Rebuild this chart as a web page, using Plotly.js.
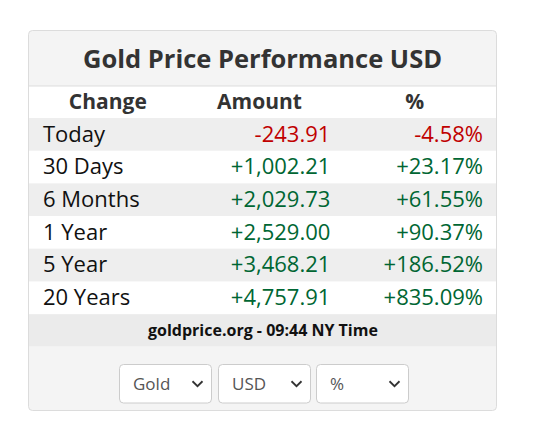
<!DOCTYPE html>
<html><head><meta charset="utf-8">
<script src="https://cdn.plot.ly/plotly-3.0.1.min.js"></script>
<style>html,body{margin:0;padding:0;background:#fff;}#chart{width:538px;height:437px;}</style>
</head><body><div id="chart"></div>
<script>
const titleText = 'Gold Price Performance USD';
const headers = ['Change', 'Amount', '%'];
const periods = ['Today', '30 Days', '6 Months', '1 Year', '5 Year', '20 Years'];
const amounts = [-243.91, 1002.21, 2029.73, 2529.00, 3468.21, 4757.91];
const percents = [-4.58, 23.17, 61.55, 90.37, 186.52, 835.09];
const footerText = 'goldprice.org - 09:44 NY Time';
const selectors = ['Gold', 'USD', '%'];

const W = 538, H = 437;
const FONT = '"Open Sans", "Noto Sans", sans-serif';
const RED = '#c00000', GREEN = '#006633';

function fmt(v) {
  const s = Math.abs(v).toLocaleString('en-US', {minimumFractionDigits: 2, maximumFractionDigits: 2});
  return (v < 0 ? '-' : '+') + s;
}
const amtText = amounts.map(fmt);
const pctText = percents.map(v => fmt(v) + '%');
const amtColors = amounts.map(v => v < 0 ? RED : GREEN);
const pctColors = percents.map(v => v < 0 ? RED : GREEN);

// layout geometry (pixels)
const panel = {x0: 28.5, x1: 496.5, y0: 30.5, y1: 410.5, r: 4};
const headerTop = 86, rowH = 32.7;
const bodyTop = 118;
const footTop = bodyTop + rowH * periods.length, footH = 32;

function rrect(x0, y0, x1, y1, r) {
  return `M${x0+r},${y0} L${x1-r},${y0} Q${x1},${y0} ${x1},${y0+r} L${x1},${y1-r} Q${x1},${y1} ${x1-r},${y1} L${x0+r},${y1} Q${x0},${y1} ${x0},${y1-r} L${x0},${y0+r} Q${x0},${y0} ${x0+r},${y0} Z`;
}

const shapes = [];
shapes.push({type: 'path', xref: 'x', yref: 'y', path: rrect(panel.x0, panel.y0, panel.x1, panel.y1, panel.r),
  fillcolor: '#f4f4f4', line: {color: '#dcdcdc', width: 1}, layer: 'below'});
shapes.push({type: 'rect', xref: 'x', yref: 'y', x0: 29, x1: 496, y0: headerTop, y1: bodyTop,
  fillcolor: '#ffffff', line: {width: 0}, layer: 'below'});
shapes.push({type: 'line', xref: 'x', yref: 'y', x0: 29, x1: 496, y0: headerTop, y1: headerTop,
  line: {color: '#dddddd', width: 1}, layer: 'below'});
periods.forEach((p, i) => {
  shapes.push({type: 'rect', xref: 'x', yref: 'y', x0: 29, x1: 496,
    y0: bodyTop + i * rowH, y1: bodyTop + (i + 1) * rowH,
    fillcolor: i % 2 === 0 ? '#eeeeee' : '#ffffff', line: {width: 0}, layer: 'below'});
});
shapes.push({type: 'rect', xref: 'x', yref: 'y', x0: 29, x1: 496, y0: footTop, y1: footTop + footH,
  fillcolor: '#ebebeb', line: {width: 0}, layer: 'below'});

// selector boxes
const selX = [119.5, 218.5, 316.5], selW = 92, selY0 = 364.5, selY1 = 403;
const annotations = [];
selectors.forEach((s, i) => {
  const x0 = selX[i], x1 = x0 + selW;
  shapes.push({type: 'path', xref: 'x', yref: 'y', path: rrect(x0, selY0, x1, selY1, 4),
    fillcolor: '#ffffff', line: {color: '#cccccc', width: 1}});
  const cx = x1 - 14, cy = (selY0 + selY1) / 2;
  shapes.push({type: 'path', xref: 'x', yref: 'y',
    path: `M${cx-5},${cy-2.5} L${cx},${cy+2.5} L${cx+5},${cy-2.5}`,
    line: {color: '#333333', width: 1.8}});
  annotations.push({xref: 'x', yref: 'y', x: x0 + 11, y: cy, xanchor: 'left', yanchor: 'middle',
    text: s, showarrow: false, font: {family: FONT, size: 17, color: '#555555'}});
});

annotations.push({xref: 'x', yref: 'y', x: 262.5, y: footTop + footH / 2, xanchor: 'center', yanchor: 'middle',
  text: '<b>' + footerText + '</b>', showarrow: false, font: {family: FONT, size: 16, color: '#111111'}});
annotations.push({xref: 'x', yref: 'y', x: 262.5, y: 58, xanchor: 'center', yanchor: 'middle',
  text: '<b>' + titleText + '</b>', showarrow: false, font: {family: FONT, size: 25.5, color: '#333333'}});

// tables: Plotly tables top-align text, so domains are offset to centre text in the stripes
const tX0 = 35, tX1 = 492;
const colW = [146, 158, 153];
const clear = {color: 'rgba(0,0,0,0)'};
const noLine = {width: 0, color: 'rgba(0,0,0,0)'};
const headTable = {
  type: 'table',
  domain: {x: [tX0 / W, tX1 / W], y: [1 - 125 / H, 1 - 79 / H]},
  columnwidth: colW,
  header: {
    values: headers.map(h => '<b>' + h + '</b>'),
    align: 'center', height: 26, fill: clear, line: noLine,
    font: {family: FONT, size: 21, color: '#333333'}
  },
  cells: {values: [[''], [''], ['']], height: 1, fill: clear, line: noLine, font: {size: 1}}
};
const bodyTop0 = 116;
const bodyTable = {
  type: 'table',
  domain: {x: [tX0 / W, tX1 / W], y: [1 - (bodyTop0 + 20 + rowH * periods.length + 4) / H, 1 - bodyTop0 / H]},
  columnwidth: colW,
  header: {values: ['', '', ''], height: 1, fill: clear, line: noLine, font: {size: 1}},
  cells: {
    values: [periods, amtText, pctText],
    align: ['left', 'right', 'right'],
    height: rowH, fill: clear, line: noLine,
    font: {family: FONT, size: 22, color: [periods.map(() => '#111111'), amtColors, pctColors]}
  }
};

const layout = {
  width: W, height: H,
  margin: {l: 0, r: 0, t: 0, b: 0, pad: 0},
  paper_bgcolor: '#ffffff', plot_bgcolor: 'rgba(0,0,0,0)',
  xaxis: {range: [0, W], visible: false, fixedrange: true},
  yaxis: {range: [H, 0], visible: false, fixedrange: true},
  shapes: shapes,
  annotations: annotations,
  showlegend: false
};

Plotly.newPlot('chart', [headTable, bodyTable], layout, {displayModeBar: false, staticPlot: true});
</script>
</body></html>
